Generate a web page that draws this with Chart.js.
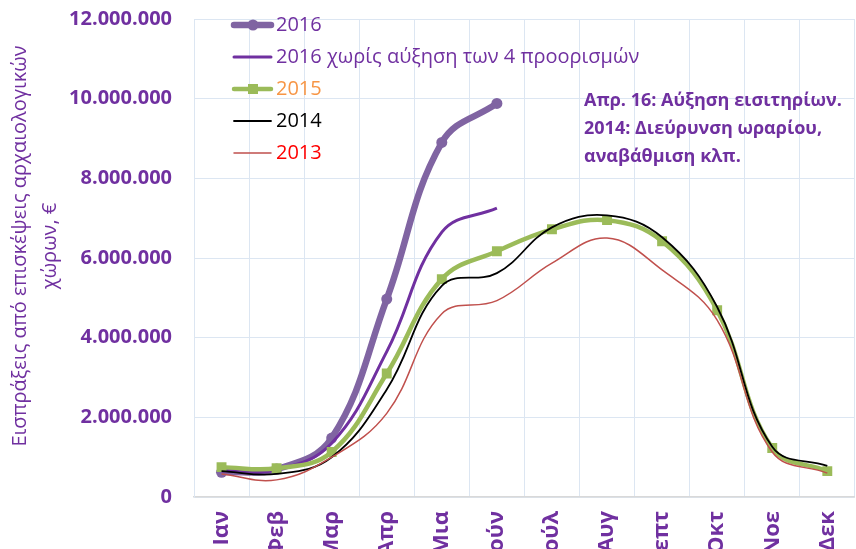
<!DOCTYPE html>
<html>
<head>
<meta charset="utf-8">
<script src="https://cdn.jsdelivr.net/npm/chart.js@4/dist/chart.umd.min.js"></script>
<style>
html,body{margin:0;padding:0;background:#fff;overflow:hidden;width:856px;height:549px;}
#wrap{position:absolute;left:0;top:0;width:868px;height:570px;}
</style>
</head>
<body>
<div id="wrap"><canvas id="c" width="868" height="570"></canvas></div>
<script>
// ---- Data ----
const months = ["Ιαν","Φεβ","Μαρ","Απρ","Μια","Ιούν","Ιούλ","Αυγ","Σεπτ","Οκτ","Νοε","Δεκ"];
const yTicks = [0, 2000000, 4000000, 6000000, 8000000, 10000000, 12000000];
const s2016 = [620000, 700000, 1480000, 4970000, 8900000, 9880000, null, null, null, null, null, null];
const s2016noInc = [650000, 680000, 1350000, 3650000, 6650000, 7250000, null, null, null, null, null, null];
const s2015 = [750000, 720000, 1130000, 3100000, 5470000, 6170000, 6720000, 6950000, 6420000, 4690000, 1230000, 650000];
const s2014 = [650000, 580000, 1000000, 2700000, 5300000, 5620000, 6770000, 7070000, 6520000, 4770000, 1260000, 780000];
const s2013 = [580000, 430000, 1000000, 2100000, 4600000, 4930000, 5870000, 6500000, 5700000, 4440000, 1130000, 600000];
const seriesNames = ["2016", "2016 χωρίς αύξηση των 4 προορισμών", "2015", "2014", "2013"];
const yTitle = ["Εισπράξεις από επισκέψεις αρχαιολογικών", "χώρων, €"];
const note = ["Απρ. 16: Αύξηση εισιτηρίων.", "2014: Διεύρυνση ωραρίου,", "αναβάθμιση κλπ."];

const PURPLE = '#7030A0';
const FONT = "'Open Sans', 'DejaVu Sans', sans-serif";

function fmt(v){ return String(Math.round(v)).replace(/\B(?=(\d{3})+(?!\d))/g, '.'); }

const legendItems = [
  {text: seriesNames[0], color:'#8064A2', width:6.5, point:'circle', r:5.5, textColor: PURPLE},
  {text: seriesNames[1], color:'#7030A0', width:3, point:null, textColor: PURPLE},
  {text: seriesNames[2], color:'#9BBB59', width:4.5, point:'rect', r:5, textColor: '#F79646'},
  {text: seriesNames[3], color:'#000000', width:1.8, point:null, textColor: '#000000'},
  {text: seriesNames[4], color:'#C0504D', width:1.5, point:null, textColor: '#FF0000'}
];

const overlay = {
  id:'overlay',
  afterDatasetsDraw(chart){
    const ctx = chart.ctx;
    ctx.save();
    // legend
    const ys = [25, 57, 89, 121, 153];
    legendItems.forEach((it, i) => {
      const y = ys[i];
      ctx.strokeStyle = it.color;
      ctx.lineWidth = it.width;
      ctx.lineCap = 'round';
      ctx.beginPath(); ctx.moveTo(234, y); ctx.lineTo(271, y); ctx.stroke();
      ctx.fillStyle = it.color;
      if (it.point === 'circle') { ctx.beginPath(); ctx.arc(253, y, it.r, 0, Math.PI*2); ctx.fill(); }
      if (it.point === 'rect') { ctx.fillRect(253 - it.r, y - it.r, it.r*2, it.r*2); }
      ctx.fillStyle = it.textColor;
      ctx.font = "20px " + FONT;
      ctx.textBaseline = 'middle';
      ctx.textAlign = 'left';
      ctx.fillText(it.text, 276, y);
    });
    // annotation
    ctx.fillStyle = PURPLE;
    ctx.font = "bold 18px " + FONT;
    ctx.textBaseline = 'middle';
    const ny = [101, 129, 157];
    note.forEach((t, i) => ctx.fillText(t, 584, ny[i]));
    // y-axis title
    ctx.save();
    ctx.translate(0, 246);
    ctx.rotate(-Math.PI/2);
    ctx.textAlign = 'center';
    ctx.textBaseline = 'middle';
    ctx.font = "20px " + FONT;
    ctx.fillStyle = PURPLE;
    ctx.fillText(yTitle[0], 0, 20);
    ctx.fillText(yTitle[1], 0, 50);
    ctx.restore();
    ctx.restore();
  }
};

new Chart(document.getElementById('c'), {
  type: 'line',
  data: {
    labels: months,
    datasets: [
      {label: seriesNames[0], data: s2016, borderColor:'#8064A2', backgroundColor:'#8064A2', borderWidth:6.5, pointStyle:'circle', pointRadius:5.5, pointBorderWidth:0, tension:0.4, order:4},
      {label: seriesNames[1], data: s2016noInc, borderColor:'#7030A0', backgroundColor:'#7030A0', borderWidth:3, pointRadius:0, tension:0.4, order:3},
      {label: seriesNames[2], data: s2015, borderColor:'#9BBB59', backgroundColor:'#9BBB59', borderWidth:4.5, pointStyle:'rect', pointRadius:7, pointBorderWidth:0, tension:0.4, order:2},
      {label: seriesNames[3], data: s2014, borderColor:'#000000', backgroundColor:'#000000', borderWidth:1.8, pointRadius:0, tension:0.4, order:1},
      {label: seriesNames[4], data: s2013, borderColor:'#C0504D', backgroundColor:'#C0504D', borderWidth:1.5, pointRadius:0, tension:0.4, order:0}
    ]
  },
  options: {
    responsive: false,
    animation: false,
    layout: {padding: {top: 0, right: 3, left: 0, bottom: 0}},
    plugins: {legend: {display: false}, tooltip: {enabled: false}},
    scales: {
      x: {
        offset: true,
        grid: {offset: true, color: '#DCE6F2', drawTicks: false},
        border: {color: '#D9D9D9', width: 1.5},
        ticks: {color: PURPLE, font: {family: FONT, size: 22, weight: 'bold'}, minRotation: 90, maxRotation: 90, padding: 14, autoSkip: false},
        afterFit(scale){ scale.height = 73; }
      },
      y: {
        min: 0, max: 12000000,
        afterBuildTicks(scale){ scale.ticks = yTicks.map(v => ({value: v})); },
        grid: {color: '#DCE6F2', drawTicks: true, tickLength: 15, tickColor: 'rgba(0,0,0,0)'},
        border: {color: '#DCE6F2'},
        ticks: {color: PURPLE, font: {family: FONT, size: 20, weight: 'bold'}, padding: 7, callback: v => fmt(v)},
        afterFit(scale){ scale.width = 194; }
      }
    }
  },
  plugins: [overlay]
});
</script>
</body>
</html>
